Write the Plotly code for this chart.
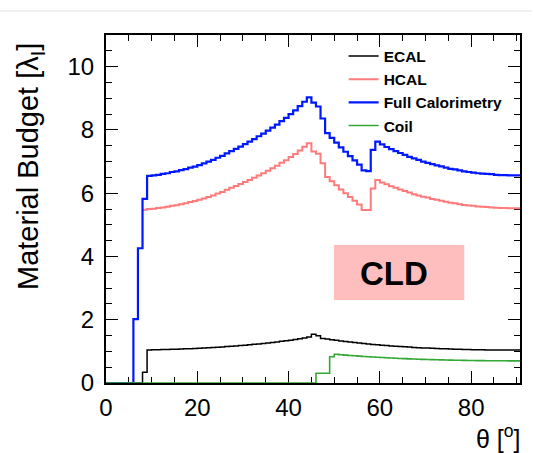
import plotly.graph_objects as go

# Bin edges in theta (degrees), 1-degree bins
THETA_EDGES = list(range(0, 92))

ECAL = [0, 0, 0, 0, 0, 0, 0, 0, 0.34, 1.045,
        1.05, 1.05, 1.055, 1.06, 1.065, 1.07, 1.075, 1.08, 1.086, 1.093,
        1.10, 1.107, 1.115, 1.123, 1.132, 1.141, 1.151, 1.161, 1.172, 1.183,
        1.195, 1.208, 1.221, 1.235, 1.25, 1.265, 1.281, 1.298, 1.316, 1.335,
        1.355, 1.375, 1.397, 1.42, 1.455, 1.54, 1.49, 1.41, 1.389, 1.368,
        1.348, 1.329, 1.311, 1.294, 1.277, 1.262, 1.247, 1.233, 1.22, 1.207,
        1.195, 1.183, 1.172, 1.162, 1.152, 1.143, 1.134, 1.126, 1.118, 1.11,
        1.103, 1.097, 1.09, 1.085, 1.079, 1.074, 1.07, 1.065, 1.061, 1.058,
        1.054, 1.052, 1.049, 1.047, 1.045, 1.043, 1.042, 1.041, 1.04, 1.04,
        1.04]

HCAL = [None, None, None, None, None, None, None, None, 5.48, 5.50,
        5.51, 5.53, 5.55, 5.57, 5.60, 5.62, 5.65, 5.68, 5.72, 5.75,
        5.79, 5.83, 5.88, 5.93, 5.99, 6.04, 6.11, 6.17, 6.23, 6.29,
        6.35, 6.42, 6.49, 6.56, 6.63, 6.71, 6.79, 6.87, 6.96, 7.04,
        7.14, 7.24, 7.35, 7.47, 7.58, 7.32, 7.25, 6.95, 6.51, 6.38,
        6.25, 6.12, 6.00, 5.88, 5.76, 5.64, 5.47, 5.47, 6.15, 6.42,
        6.34, 6.28, 6.22, 6.17, 6.12, 6.07, 6.02, 5.97, 5.93, 5.89,
        5.86, 5.82, 5.79, 5.76, 5.73, 5.70, 5.68, 5.65, 5.63, 5.61,
        5.60, 5.58, 5.57, 5.56, 5.55, 5.54, 5.53, 5.53, 5.52, 5.52,
        5.52]

FULL = [0, 0, 0, 0, 0, 0, 2.02, 4.26, 5.82, 6.55,
        6.56, 6.58, 6.61, 6.63, 6.67, 6.69, 6.73, 6.76, 6.81, 6.84,
        6.89, 6.94, 7.00, 7.05, 7.12, 7.18, 7.26, 7.33, 7.40, 7.47,
        7.55, 7.63, 7.71, 7.80, 7.88, 7.98, 8.07, 8.17, 8.28, 8.38,
        8.50, 8.62, 8.75, 8.89, 9.03, 8.86, 8.74, 8.36, 7.90, 7.75,
        7.60, 7.45, 7.31, 7.17, 7.04, 6.90, 6.72, 6.70, 7.37, 7.63,
        7.54, 7.46, 7.39, 7.33, 7.27, 7.21, 7.15, 7.10, 7.05, 7.00,
        6.96, 6.92, 6.88, 6.85, 6.81, 6.77, 6.75, 6.72, 6.69, 6.67,
        6.65, 6.63, 6.62, 6.61, 6.60, 6.58, 6.57, 6.57, 6.56, 6.56,
        6.56]

COIL = [0, 0, 0, 0, 0, 0, 0, 0, 0, 0,
        0, 0, 0, 0, 0, 0, 0, 0, 0, 0,
        0, 0, 0, 0, 0, 0, 0, 0, 0, 0,
        0, 0, 0, 0, 0, 0, 0, 0, 0, 0,
        0, 0, 0, 0, 0, 0, 0.31, 0.31, 0.31, 0.83,
        0.91, 0.894, 0.882, 0.871, 0.86, 0.849, 0.839, 0.83, 0.821, 0.812,
        0.804, 0.797, 0.789, 0.782, 0.776, 0.769, 0.763, 0.758, 0.752, 0.747,
        0.743, 0.738, 0.734, 0.73, 0.726, 0.723, 0.72, 0.717, 0.714, 0.712,
        0.71, 0.708, 0.706, 0.705, 0.703, 0.702, 0.701, 0.701, 0.70, 0.70,
        0.70]

SERIES = [
    ("ECAL", ECAL, "#000000", 1.5),
    ("HCAL", HCAL, "#ff7b7b", 2.0),
    ("Full Calorimetry", FULL, "#0018ff", 2.2),
    ("Coil", COIL, "#34a834", 1.6),
]

FONT = "Liberation Sans, Arial, Helvetica, sans-serif"

fig = go.Figure()
for name, vals, color, w in SERIES:
    fig.add_trace(go.Scatter(
        x=THETA_EDGES,
        y=vals + [vals[-1]],
        mode="lines",
        line=dict(color=color, width=w, shape="hv"),
        name=name,
        connectgaps=False,
    ))

axis_common = dict(
    showline=True, linewidth=2, linecolor="black", mirror="allticks",
    ticks="inside", tickcolor="black", tickwidth=1, ticklen=12,
    showgrid=False, zeroline=False,
    tickfont=dict(family=FONT, size=24, color="black"),
    layer="below traces",
)

fig.update_xaxes(
    range=[0, 90.7], tickvals=[0, 20, 40, 60, 80],
    minor=dict(dtick=5, tick0=0, ticks="inside", ticklen=6, tickcolor="black", tickwidth=1),
    ticklabelstandoff=2,
    **axis_common,
)
fig.update_yaxes(
    range=[0, 11], tickvals=[0, 2, 4, 6, 8, 10],
    minor=dict(dtick=0.5, tick0=0, ticks="inside", ticklen=6, tickcolor="black", tickwidth=1),
    ticklabelstandoff=5,
    **axis_common,
)

fig.update_layout(
    width=534, height=453,
    margin=dict(l=106, r=12, t=35, b=70),
    paper_bgcolor="white", plot_bgcolor="white",
    font=dict(family=FONT, color="black"),
    legend=dict(
        x=0.574, y=0.987, xanchor="left", yanchor="top",
        bgcolor="rgba(0,0,0,0)", borderwidth=0,
        font=dict(family=FONT, size=15.5, color="black", weight="bold"),
        tracegroupgap=0,
    ),
    shapes=[
        dict(type="rect", xref="paper", yref="paper",
             x0=0.5505, x1=0.8654, y0=0.2385, y1=0.3966,
             fillcolor="#ffbebe", line=dict(width=0), layer="below"),
        dict(type="line", xref="paper", yref="paper",
             x0=-0.26, x1=1.03, y0=1.069, y1=1.069,
             line=dict(color="#e2e2e2", width=1)),
    ],
    annotations=[
        dict(text="Material Budget [λ<sub>I</sub>]", textangle=-90,
             xref="paper", yref="paper", x=-0.183, y=0.982,
             xanchor="center", yanchor="top", showarrow=False,
             font=dict(family=FONT, size=29, color="black")),
        dict(text="θ [<sup>o</sup>]",
             xref="paper", yref="paper", x=1.005, y=-0.156,
             xanchor="right", yanchor="middle", showarrow=False,
             font=dict(family=FONT, size=25, color="black")),
        dict(text="<b>CLD</b>",
             xref="paper", yref="paper", x=0.695, y=0.316,
             xanchor="center", yanchor="middle", showarrow=False,
             font=dict(family=FONT, size=33, color="black")),
    ],
)

fig.write_html("out.html")
